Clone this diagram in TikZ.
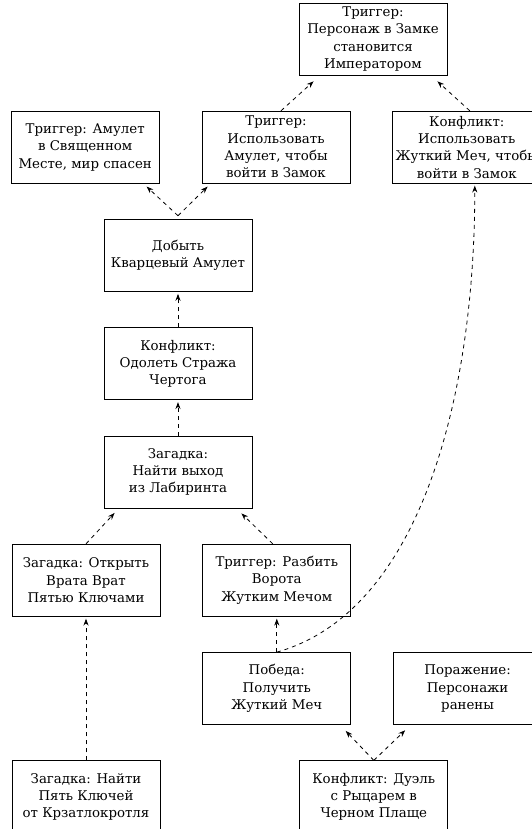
\documentclass[tikz,border=0pt]{standalone}
\usepackage{fontspec}
\setmainfont{DejaVu Serif}
\usetikzlibrary{arrows.meta,positioning}

\begin{document}
\begin{tikzpicture}[
		node distance=26.6pt and 31.5pt,
		block/.style={rectangle, draw, line width=0.6pt, minimum width=111pt,
				minimum height=54pt, inner sep=1pt, align=center,
				font=\fontsize{10}{13}\selectfont},
		arrow/.style={->, dashed, line width=0.6pt, >={Stealth[length=5.2pt,width=3.8pt]}}
	]
	\clip (-133.5pt,354pt) rectangle (265.5pt,-267.75pt);

	% middle column
	\node[block] (labyrinth) at (0,0) {Загадка:\\Найти выход\\из Лабиринта};
	\node[block, above=of labyrinth] (guardian) {Конфликт:\\Одолеть Стража\\Чертога};
	\node[block, above=of guardian] (getAmulet) {Добыть\\Кварцевый Амулет};

	% upper rows
	\node[block, above=of getAmulet, xshift=73.5pt] (useAmulet) {Триггер:\\Использовать\\Амулет, чтобы\\войти в Замок};
	\node[block, left=of useAmulet] (amuletWorld) {Триггер: Амулет\\в Священном\\Месте, мир спасен};
	\node[block, right=of useAmulet] (useSword) {Конфликт:\\Использовать\\Жуткий Меч, чтобы\\войти в Замок};
	\node[block, above=of useAmulet, xshift=72.75pt] (crown) {Триггер:\\Персонаж в Замке\\становится\\Императором};

	% lower rows
	\node[block, below=of labyrinth, xshift=-69pt] (gates) {Загадка: Открыть\\Врата Врат\\Пятью Ключами};
	\node[block, right=of gates] (breakGate) {Триггер: Разбить\\Ворота\\Жутким Мечом};
	\node[block, below=of breakGate] (victory) {Победа:\\Получить\\Жуткий Меч};
	\node[block, right=of victory] (defeat) {Поражение:\\Персонажи\\ранены};
	\node[block, below=of victory, xshift=72.75pt] (duel) {Конфликт: Дуэль\\с Рыцарем в\\Черном Плаще};
	\node[block] (keys) at (gates |- duel) {Загадка: Найти\\Пять Ключей\\от Крзатлокротля};

	% Connections
	\draw[arrow] ([yshift=2.5pt]getAmulet.north) -- ([xshift=-9.75pt,yshift=-2.25pt]amuletWorld.south east);
	\draw[arrow] ([yshift=2.5pt]getAmulet.north) -- ([xshift=4.5pt,yshift=-2.25pt]useAmulet.south west);
	\draw[arrow] ([xshift=3.75pt]useAmulet.north) -- ([xshift=11.25pt,yshift=-4.5pt]crown.south west);
	\draw[arrow] ([xshift=2.25pt]useSword.north) -- ([xshift=-7.5pt,yshift=-4.5pt]crown.south east);
	\draw[arrow] (guardian.north) -- ([yshift=-1.5pt]getAmulet.south);
	\draw[arrow] (labyrinth.north) -- ([yshift=-1.5pt]guardian.south);
	\draw[arrow] (gates.north) -- ([xshift=8.25pt,yshift=-3.4pt]labyrinth.south west);
	\draw[arrow] ([xshift=-3pt]breakGate.north) -- ([xshift=-8.25pt,yshift=-3.75pt]labyrinth.south east);
	\draw[arrow] (keys.north) -- ([yshift=-1.5pt]gates.south);
	\draw[arrow] (victory.north) -- ([yshift=-1.5pt]breakGate.south);
	\draw[arrow] (victory.north) .. controls +(107pt,30pt) and +(0,-160pt) .. ([xshift=6pt,yshift=-1.5pt]useSword.south);
	\draw[arrow] (duel.north) -- ([xshift=-4.1pt,yshift=-4.5pt]victory.south east);
	\draw[arrow] (duel.north) -- ([xshift=9pt,yshift=-4pt]defeat.south west);
\end{tikzpicture}
\end{document}
